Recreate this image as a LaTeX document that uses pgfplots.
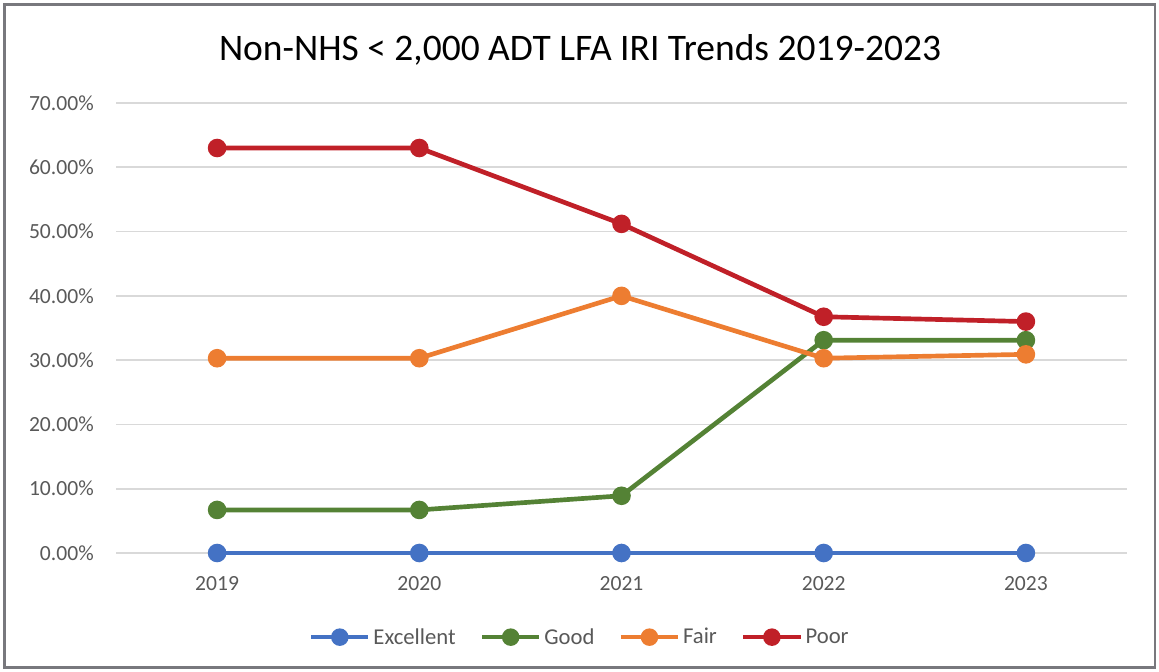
\documentclass[border=0pt]{standalone}
\usepackage{pgfplots}
\pgfplotsset{compat=1.18}
\usepackage{fontspec}
\setmainfont{Carlito}
\definecolor{cExc}{RGB}{68,114,196}
\definecolor{cGood}{RGB}{84,130,53}
\definecolor{cFair}{RGB}{237,125,49}
\definecolor{cPoor}{RGB}{192,32,40}
\definecolor{tickgray}{RGB}{89,89,89}
\definecolor{gridgray}{RGB}{217,217,217}
\definecolor{framegray}{RGB}{120,120,125}
\begin{document}
\begin{tikzpicture}[x=0.75pt,y=0.75pt]
\useasboundingbox (0,0) rectangle (1159,671);
\draw[draw=framegray, line width=1.6pt] (4.5,3.5) rectangle (1155,666.5);
\node[font=\fontsize{28.1}{33}\selectfont, text=black] at (580,621) {Non-NHS < 2,000 ADT LFA IRI Trends 2019-2023};
\begin{axis}[
  at={(116*0.75pt,118*0.75pt)}, anchor=south west,
  scale only axis, width=758.25pt, height=337.5pt,
  xmin=-0.5, xmax=4.5, ymin=0, ymax=70,
  xtick={0,1,2,3,4}, xticklabels={2019,2020,2021,2022,2023},
  ytick={0,10,20,30,40,50,60,70},
  yticklabel={\pgfmathprintnumber[fixed,fixed zerofill,precision=2]{\tick}\%},
  /pgf/number format/assume math mode=true,
  axis line style={draw=none},
  major tick length=0pt,
  ymajorgrids, grid style={gridgray, line width=1.2pt},
  tick label style={font=\fontsize{16.2}{19}\selectfont, text=tickgray},
  y tick label style={inner sep=0pt, xshift=-16.5pt},
  x tick label style={inner sep=0pt, anchor=center, yshift=-23pt},
  clip=false,
  legend columns=4,
  legend style={draw=none, at={(0.459,-0.187)}, anchor=center,
    font=\fontsize{17}{20}\selectfont, text=tickgray,
    /tikz/every even column/.append style={column sep=16pt}},
  legend image code/.code={\draw[mark repeat=2,mark phase=2, mark size=4.8pt] plot coordinates {(0pt,0pt)(21.5pt,0pt)(43pt,0pt)};},
  every axis plot/.append style={line width=3.5pt, mark=*, mark size=5.2pt, mark options={solid}},
]
\addplot[color=cExc] coordinates {(0,0) (1,0) (2,0) (3,0) (4,0)};
\addlegendentry{Excellent}
\addplot[color=cGood] coordinates {(0,6.7) (1,6.7) (2,8.9) (3,33.1) (4,33.1)};
\addlegendentry{Good}
\addplot[color=cFair] coordinates {(0,30.3) (1,30.3) (2,40.0) (3,30.3) (4,30.9)};
\addlegendentry{Fair}
\addplot[color=cPoor] coordinates {(0,63.0) (1,63.0) (2,51.2) (3,36.75) (4,36.0)};
\addlegendentry{Poor}
\end{axis}
\end{tikzpicture}
\end{document}
